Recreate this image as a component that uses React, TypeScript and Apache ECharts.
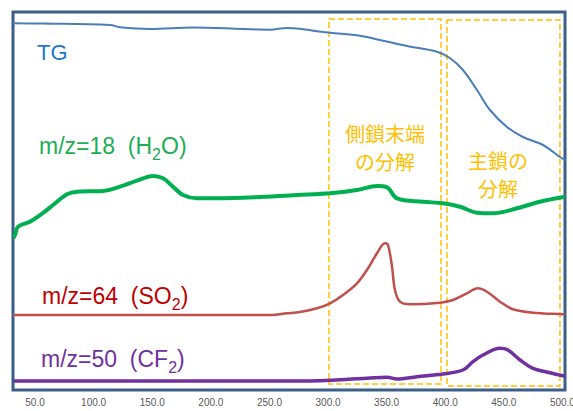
import React, { useEffect, useRef } from "react";
import * as echarts from "echarts";

const xTicks = [50, 100, 150, 200, 250, 300, 350, 400, 450, 500];

const tgData = [
  [31.2, 367], [32.9, 366.7], [56.8, 366.5], [114.0, 365], [122.5, 362.7], [148.1, 361],
  [184.8, 362.5], [227.4, 361], [250.5, 360.3], [265.0, 362], [276.1, 361.3],
  [287.2, 359.3], [301.7, 357.3], [327.3, 354.3], [344.3, 350], [367.4, 344],
  [393.0, 338.3], [404.0, 332], [415.1, 320], [427.1, 300], [438.2, 280],
  [452.7, 263], [466.3, 253], [483.4, 245], [497.9, 233], [502.2, 230],
];

const h2oData = [
  [31.6, 152], [32.9, 155], [35.5, 163.3], [45.7, 168.3], [56.8, 177], [65.3, 185],
  [77.3, 195.7], [85.8, 198.3], [108.0, 199], [122.5, 203.3], [137.0, 209.3],
  [150.6, 214], [159.2, 211.7], [167.7, 203.3], [176.2, 195], [188.2, 191.7],
  [227.4, 192.3], [273.5, 195], [301.7, 196.7], [324.7, 200], [341.8, 204],
  [350.3, 202.7], [358.8, 191.7], [381.0, 188.3], [398.1, 186.7], [412.6, 183.3],
  [427.1, 177.3], [440.7, 176.7], [461.2, 181.7], [480.8, 188.3], [497.9, 192.3],
  [502.2, 193],
];

const so2Data = [
  [31.2, 75], [148.1, 75], [250.5, 75], [265.0, 76.7], [276.1, 78], [290.6, 81.7],
  [301.7, 86.7], [312.8, 95], [324.7, 106.7], [333.2, 120], [341.8, 136.7],
  [348.6, 146.7], [351.2, 145], [354.6, 123.3], [357.1, 100], [361.4, 88.3],
  [369.9, 85.7], [395.5, 87.3], [406.6, 90], [418.5, 96.7], [427.9, 101.7],
  [435.6, 98.3], [446.7, 88.3], [457.8, 80.7], [474.9, 77.3], [500.5, 75.7],
  [502.2, 75.5],
];

const cf2Data = [
  [31.2, 9], [148.1, 9], [276.1, 9], [333.2, 11.7], [350.3, 12.7], [358.8, 11],
  [375.9, 13.3], [398.1, 16], [415.1, 20], [423.7, 28.3], [432.2, 35],
  [446.7, 41.7], [453.5, 40], [463.8, 30], [474.9, 21.7], [489.4, 17.3],
  [500.5, 14.3], [502.2, 14],
];

// dashed regions: [xFrom, yTop, xTo, yBottom]
const sideChainBox = [300.8, 371, 396.4, 6];
const mainChainBox = [401.5, 370, 497.9, 4];

const sideChainLabel = "側鎖末端\nの分解";
const mainChainLabel = "主鎖の\n分解";

export default function App() {
  const ref = useRef<HTMLDivElement>(null);
  useEffect(() => {
    if (!ref.current) return;
    const chart = echarts.init(ref.current, null, { renderer: "svg" });
    const font = '"Liberation Sans", Arial, sans-serif';
    const jp = '"Noto Sans CJK JP", sans-serif';
    const orange = "#FFC000";
    const lineSeries = (name: string, data: number[][], color: string, width: number, extra: any = {}) => ({
      name,
      type: "line",
      data,
      showSymbol: false,
      smooth: 0.35,
      lineStyle: { color, width },
      itemStyle: { color },
      z: 3,
      ...extra,
    });
    const boxArea = (b: number[]) => [
      { xAxis: b[0], yAxis: b[1] },
      { xAxis: b[2], yAxis: b[3] },
    ];
    const richLabel = (x: number, y: number, pre: string, sub: string, post: string, color: string) => ({
      type: "text",
      x,
      y,
      style: {
        text: `{a|${pre}}{s|${sub}}{a|${post}}`,
        fill: color,
        verticalAlign: "middle",
        rich: {
          a: { fontSize: 23, fontFamily: font, fill: color, lineHeight: 32 },
          s: { fontSize: 16, fontFamily: font, fill: color, lineHeight: 16, verticalAlign: "bottom" },
        },
      },
    });
    chart.setOption({
      animation: false,
      backgroundColor: "#ffffff",
      grid: {
        left: 13,
        right: 8,
        top: 12,
        bottom: 21,
        show: true,
        containLabel: false,
        outerBoundsMode: "none",
        borderColor: "#3B5F8A",
        borderWidth: 3,
        backgroundColor: "transparent",
      },
      xAxis: {
        type: "value",
        min: 31.2,
        max: 502.2,
        name: "Temp (°C)",
        nameLocation: "middle",
        nameGap: 17,
        nameTextStyle: { fontSize: 10, color: "#595959", fontFamily: font },
        axisLine: { show: false },
        axisTick: { show: false },
        splitLine: { show: false },
        axisLabel: {
          customValues: xTicks,
          formatter: (v: number) => v.toFixed(1),
          fontSize: 10,
          color: "#595959",
          fontFamily: font,
          margin: 7,
          hideOverlap: false,
        },
      },
      yAxis: {
        type: "value",
        min: 0,
        max: 378,
        show: false,
        splitLine: { show: false },
      },
      series: [
        lineSeries("TG", tgData, "#4A7EBB", 2),
        lineSeries("H2O", h2oData, "#00B050", 4),
        lineSeries("SO2", so2Data, "#C0504D", 2.5),
        lineSeries("CF2", cf2Data, "#7030A0", 3.5, {
          markArea: {
            silent: true,
            itemStyle: {
              color: "rgba(0,0,0,0)",
              borderColor: orange,
              borderWidth: 1.5,
              borderType: [6, 3],
            },
            data: [boxArea(sideChainBox), boxArea(mainChainBox)],
          },
        }),
      ],
      graphic: [
        {
          type: "text",
          x: 37,
          y: 52,
          style: { text: "TG", fill: "#1F77C9", font: `22px ${font}`, verticalAlign: "middle" },
        },
        richLabel(39, 146, "m/z=18  (H", "2", "O)", "#1BAE54"),
        richLabel(42, 296, "m/z=64  (SO", "2", ")", "#C00000"),
        richLabel(41, 359, "m/z=50  (CF", "2", ")", "#7030A0"),
        {
          type: "text",
          x: 385,
          y: 147,
          style: {
            text: sideChainLabel,
            fill: orange,
            font: `20px ${jp}`,
            align: "center",
            verticalAlign: "middle",
            lineHeight: 28,
          },
        },
        {
          type: "text",
          x: 498,
          y: 174,
          style: {
            text: mainChainLabel,
            fill: orange,
            font: `20px ${jp}`,
            align: "center",
            verticalAlign: "middle",
            lineHeight: 28,
          },
        },
      ],
    });
    return () => chart.dispose();
  }, []);
  return <div ref={ref} style={{ width: 573, height: 411, position: "absolute", left: 0, top: 0 }} />;
}
